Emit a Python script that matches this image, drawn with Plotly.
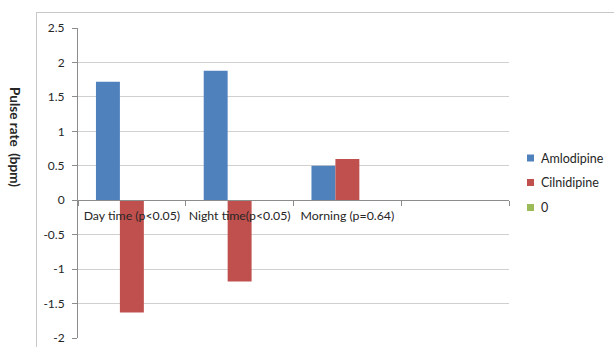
import plotly.graph_objects as go

categories = ["Day time (p<0.05)", "Night time(p<0.05)", "Morning (p=0.64)", " "]
series_names = ["Amlodipine", "Cilnidipine", "0"]
amlodipine = [1.72, 1.88, 0.50, None]
cilnidipine = [-1.63, -1.18, 0.60, None]
zero_series = [0, 0, 0, None]
series_colors = ["#4F81BD", "#C0504D", "#9BBB59"]

y_ticks = [2.5, 2, 1.5, 1, 0.5, 0, -0.5, -1, -1.5, -2]
y_min, y_max = -2, 2.5

W, H = 615, 347
ml, mr, mt, mb = 78, 106, 28, 9
pw, ph = W - ml - mr, H - mt - mb

def px_x(x):
    return (x - ml) / pw

def px_y(y):
    return (H - mb - y) / ph

font = "Lato, 'Open Sans', sans-serif"
text_col = "#262626"
axis_grey = "#8c8c8c"
grid_grey = "#d0d0d0"

fig = go.Figure()
for name, vals, col in zip(series_names, [amlodipine, cilnidipine, zero_series], series_colors):
    fig.add_bar(x=categories, y=vals, name=name, marker_color=col,
                marker_line_width=0, showlegend=False)

zero_pos = (0 - y_min) / (y_max - y_min)

# chart frame (top and left edges)
shapes = [
    dict(type="line", xref="paper", yref="paper",
         x0=px_x(36), x1=px_x(614), y0=px_y(12.5), y1=px_y(12.5),
         line=dict(color="#c8c8c8", width=1)),
    dict(type="line", xref="paper", yref="paper",
         x0=px_x(36.5), x1=px_x(36.5), y0=px_y(12.5), y1=px_y(360),
         line=dict(color="#c8c8c8", width=1)),
]
annotations = [
    dict(text="<b>Pulse rate  (bpm)</b>", xref="paper", yref="paper",
         x=px_x(15), y=px_y(137), textangle=90, showarrow=False,
         font=dict(size=13.5, color=text_col), xanchor="center", yanchor="middle"),
]

# legend: colour key squares with series names
legend_rows = [158, 182.5, 207.5]
for name, col, yc in zip(series_names, series_colors, legend_rows):
    shapes.append(dict(type="rect", xref="paper", yref="paper",
                       x0=px_x(527), x1=px_x(534), y0=px_y(yc - 3.5), y1=px_y(yc + 3.5),
                       fillcolor=col, line=dict(width=0)))
    annotations.append(dict(text=name, xref="paper", yref="paper",
                            x=px_x(539), y=px_y(yc), xanchor="left", yanchor="middle",
                            showarrow=False, font=dict(size=12.5, color=text_col)))

fig.update_layout(
    width=W, height=H,
    margin=dict(l=ml, r=mr, t=mt, b=mb, pad=0, autoexpand=False),
    paper_bgcolor="white", plot_bgcolor="white",
    barmode="group", bargap=1/3, bargroupgap=0,
    font=dict(family=font, size=11, color=text_col),
    showlegend=False,
    xaxis=dict(
        type="category", anchor="free", position=zero_pos,
        showline=True, linecolor=axis_grey, linewidth=1,
        ticks="outside", ticklen=5, tickcolor=axis_grey, tickson="boundaries",
        ticklabelstandoff=4,
        showgrid=False, tickangle=0, tickfont=dict(size=12.3, color=text_col),
        range=[-0.5, 3.5],
    ),
    yaxis=dict(
        range=[y_min, y_max], tickvals=y_ticks, ticktext=[f"{v:g}" for v in y_ticks],
        showline=True, linecolor=axis_grey, linewidth=1,
        ticks="outside", ticklen=5, tickcolor=axis_grey, ticklabelstandoff=5,
        showgrid=True, gridcolor=grid_grey, gridwidth=1,
        zeroline=False, tickfont=dict(size=12, color=text_col),
    ),
    shapes=shapes,
    annotations=annotations,
)

fig.write_html("out.html")
